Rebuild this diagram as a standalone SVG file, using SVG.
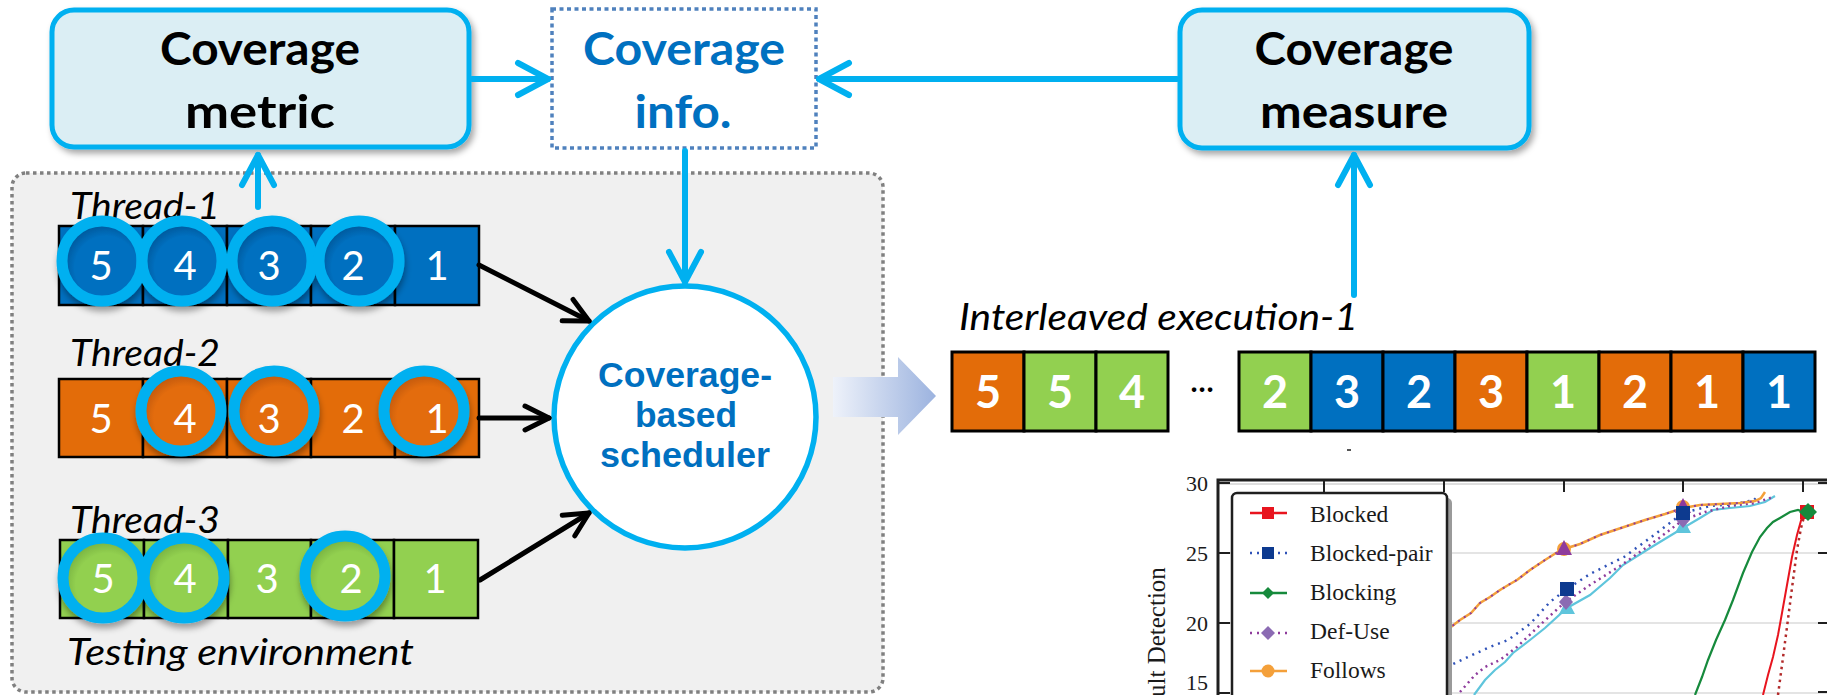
<svg xmlns="http://www.w3.org/2000/svg" width="1827" height="695" viewBox="0 0 1827 695">
  <style>
    .sans { font-family: Lato, "Liberation Sans", sans-serif; }
    .boxlbl { font-family: Lato, "Liberation Sans", sans-serif; font-weight: 700; font-size: 46px; text-anchor: middle; fill: #000; }
    .bluelbl { fill: #0070c0; }
    .schedlbl { font-family: "Liberation Sans", Arial, sans-serif; font-weight: 700; font-size: 35px; text-anchor: middle; fill: #0070c0; }
    .ital { font-family: Lato, "Liberation Sans", sans-serif; font-style: italic; font-size: 36px; fill: #000; }
    .dig { font-family: Lato, "Liberation Sans", sans-serif; font-size: 40px; fill: #fff; text-anchor: middle; }
    .bdig { font-family: Lato, "Liberation Sans", sans-serif; font-weight: 700; font-size: 45px; fill: #fff; text-anchor: middle; }
    .cell { stroke: #000; stroke-width: 2.5; }
    .xcell { stroke: #000; stroke-width: 3; }
    .blue { fill: #0070c0; }
    .orange { fill: #e36c09; }
    .green { fill: #92d050; }
    .ring { stroke: #00b0f0; stroke-width: 11; }
    .box { fill: #dbeef4; stroke: #00b0f0; stroke-width: 5; }
    .bluearrow { stroke: #00b0f0; stroke-width: 6; fill: none; stroke-linecap: round; }
    .blackarrow { stroke: #000; stroke-width: 5; fill: none; stroke-linecap: round; }
    .serif { font-family: "Liberation Serif", serif; fill: #1a1a1a; }
    .tick { font-family: "Liberation Serif", serif; font-size: 22px; fill: #1a1a1a; text-anchor: end; }
    .leg { font-family: "Liberation Serif", serif; font-size: 23.5px; fill: #1a1a1a; }
    .axis { stroke: #1f1f1f; stroke-width: 3; fill: none; }
    .grid { stroke: #e4e4e4; stroke-width: 2; }
  </style>
  <defs>
    <filter id="shadow" x="-20%" y="-20%" width="140%" height="150%">
      <feDropShadow dx="3" dy="4" stdDeviation="3" flood-color="#000" flood-opacity="0.35"/>
    </filter>
    <filter id="ringShadow" x="-30%" y="-30%" width="160%" height="170%">
      <feDropShadow dx="1" dy="5" stdDeviation="3" flood-color="#000" flood-opacity="0.35"/>
    </filter>
    <radialGradient id="gBlue" cx="55%" cy="58%" r="60%">
      <stop offset="0.65" stop-color="#0070c0"/>
      <stop offset="1" stop-color="#004f8c"/>
    </radialGradient>
    <radialGradient id="gOrange" cx="55%" cy="58%" r="60%">
      <stop offset="0.65" stop-color="#e36c09"/>
      <stop offset="1" stop-color="#b45206"/>
    </radialGradient>
    <radialGradient id="gGreen" cx="55%" cy="58%" r="60%">
      <stop offset="0.65" stop-color="#92d050"/>
      <stop offset="1" stop-color="#6fa83a"/>
    </radialGradient>
    <linearGradient id="flowFill" x1="833" y1="0" x2="936" y2="0" gradientUnits="userSpaceOnUse">
      <stop offset="0" stop-color="#eef2fa"/>
      <stop offset="1" stop-color="#9cb3df"/>
    </linearGradient>
    <marker id="blueHead" markerUnits="userSpaceOnUse" viewBox="-40 -24 48 48" markerWidth="48" markerHeight="48" refX="0" refY="0" orient="auto" overflow="visible">
      <path d="M-30,-16 L0,0 L-30,16" fill="none" stroke="#00b0f0" stroke-width="6" stroke-linecap="round" stroke-linejoin="round"/>
    </marker>
    <marker id="blackHead" markerUnits="userSpaceOnUse" viewBox="-34 -20 40 40" markerWidth="40" markerHeight="40" refX="0" refY="0" orient="auto" overflow="visible">
      <path d="M-24,-12 L0,0 L-24,12" fill="none" stroke="#000" stroke-width="5" stroke-linecap="round" stroke-linejoin="round"/>
    </marker>
  </defs>

  <rect width="1827" height="695" fill="#fff"/>

  <!-- testing environment container -->
  <g id="testing-env">
    <rect x="12" y="173" width="871" height="519" rx="14" fill="#f0f0f0" stroke="#808080" stroke-width="3.5" stroke-dasharray="3.5 3.5"/>
    <text class="ital" x="67" y="665" textLength="347" lengthAdjust="spacingAndGlyphs">Testing environment</text>
  </g>

  <!-- thread 1 -->
  <g id="thread-1">
    <text class="ital" x="70" y="219" textLength="150" lengthAdjust="spacingAndGlyphs">Thread-1</text>
    <rect class="cell blue" x="59" y="226" width="84" height="79"/>
    <rect class="cell blue" x="143" y="226" width="84" height="79"/>
    <rect class="cell blue" x="227" y="226" width="84" height="79"/>
    <rect class="cell blue" x="311" y="226" width="84" height="79"/>
    <rect class="cell blue" x="395" y="226" width="84" height="79"/>
    <g filter="url(#ringShadow)">
      <circle class="ring" cx="102" cy="261" r="40" fill="url(#gBlue)"/>
      <circle class="ring" cx="182" cy="261" r="40" fill="url(#gBlue)"/>
      <circle class="ring" cx="272" cy="261" r="40" fill="url(#gBlue)"/>
      <circle class="ring" cx="359" cy="261" r="40" fill="url(#gBlue)"/>
    </g>
    <text class="dig" x="101" y="280">5</text>
    <text class="dig" x="185" y="280">4</text>
    <text class="dig" x="269" y="280">3</text>
    <text class="dig" x="353" y="280">2</text>
    <text class="dig" x="437" y="280">1</text>
  </g>

  <!-- thread 2 -->
  <g id="thread-2">
    <text class="ital" x="70" y="366" textLength="150" lengthAdjust="spacingAndGlyphs">Thread-2</text>
    <rect class="cell orange" x="59" y="379" width="84" height="78"/>
    <rect class="cell orange" x="143" y="379" width="84" height="78"/>
    <rect class="cell orange" x="227" y="379" width="84" height="78"/>
    <rect class="cell orange" x="311" y="379" width="84" height="78"/>
    <rect class="cell orange" x="395" y="379" width="84" height="78"/>
    <g filter="url(#ringShadow)">
      <circle class="ring" cx="181" cy="411" r="40" fill="url(#gOrange)"/>
      <circle class="ring" cx="274" cy="411" r="40" fill="url(#gOrange)"/>
      <circle class="ring" cx="424" cy="411" r="40" fill="url(#gOrange)"/>
    </g>
    <text class="dig" x="101" y="433">5</text>
    <text class="dig" x="185" y="433">4</text>
    <text class="dig" x="269" y="433">3</text>
    <text class="dig" x="353" y="433">2</text>
    <text class="dig" x="437" y="433">1</text>
  </g>

  <!-- thread 3 -->
  <g id="thread-3">
    <text class="ital" x="70" y="533" textLength="150" lengthAdjust="spacingAndGlyphs">Thread-3</text>
    <rect class="cell green" x="60" y="540" width="84" height="78"/>
    <rect class="cell green" x="144" y="540" width="84" height="78"/>
    <rect class="cell green" x="228" y="540" width="83" height="78"/>
    <rect class="cell green" x="311" y="540" width="83" height="78"/>
    <rect class="cell green" x="394" y="540" width="84" height="78"/>
    <g filter="url(#ringShadow)">
      <circle class="ring" cx="103" cy="578" r="40" fill="url(#gGreen)"/>
      <circle class="ring" cx="184" cy="578" r="40" fill="url(#gGreen)"/>
      <circle class="ring" cx="345" cy="576" r="40" fill="url(#gGreen)"/>
    </g>
    <text class="dig" x="103" y="593">5</text>
    <text class="dig" x="185" y="593">4</text>
    <text class="dig" x="267" y="593">3</text>
    <text class="dig" x="351" y="593">2</text>
    <text class="dig" x="435" y="593">1</text>
  </g>

  <!-- scheduler -->
  <g id="scheduler">
    <circle cx="685" cy="417" r="131" fill="#fff" stroke="#00b0f0" stroke-width="5.5"/>
    <text class="schedlbl" x="685" y="387" textLength="174" lengthAdjust="spacingAndGlyphs">Coverage-</text>
    <text class="schedlbl" x="686" y="427" textLength="102" lengthAdjust="spacingAndGlyphs">based</text>
    <text class="schedlbl" x="685" y="467" textLength="170" lengthAdjust="spacingAndGlyphs">scheduler</text>
  </g>

  <!-- top boxes -->
  <g id="coverage-metric">
    <rect class="box" x="52" y="10" width="417" height="137" rx="22" filter="url(#shadow)"/>
    <text class="boxlbl" x="260" y="65" textLength="200" lengthAdjust="spacingAndGlyphs">Coverage</text>
    <text class="boxlbl" x="260" y="128" textLength="150" lengthAdjust="spacingAndGlyphs">metric</text>
  </g>
  <g id="coverage-info">
    <rect x="552" y="9" width="264" height="139" fill="#fff" stroke="#4f81bd" stroke-width="3.5" stroke-dasharray="4 3.5"/>
    <text class="boxlbl bluelbl" x="684" y="65" textLength="202" lengthAdjust="spacingAndGlyphs">Coverage</text>
    <text class="boxlbl bluelbl" x="683" y="128" textLength="97" lengthAdjust="spacingAndGlyphs">info.</text>
  </g>
  <g id="coverage-measure">
    <rect class="box" x="1180" y="10" width="349" height="138" rx="22" filter="url(#shadow)"/>
    <text class="boxlbl" x="1354" y="65" textLength="199" lengthAdjust="spacingAndGlyphs">Coverage</text>
    <text class="boxlbl" x="1354" y="128" textLength="188" lengthAdjust="spacingAndGlyphs">measure</text>
  </g>

  <!-- connectors -->
  <g id="connectors">
    <path class="bluearrow" d="M472,79 H548" marker-end="url(#blueHead)"/>
    <path class="bluearrow" d="M1177,79 H819" marker-end="url(#blueHead)"/>
    <path class="bluearrow" d="M685,151 V282" marker-end="url(#blueHead)"/>
    <path class="bluearrow" d="M258,207 V155" marker-end="url(#blueHead)"/>
    <path class="bluearrow" d="M1354,295 V155" marker-end="url(#blueHead)"/>
    <path class="blackarrow" d="M479,265 L589,321" marker-end="url(#blackHead)"/>
    <path class="blackarrow" d="M479,418 L549,418" marker-end="url(#blackHead)"/>
    <path class="blackarrow" d="M480,580 L589,513" marker-end="url(#blackHead)"/>
    <polygon points="833,377 898,377 898,357 936,396 898,435 898,417 833,417" fill="url(#flowFill)"/>
  </g>

  <!-- interleaved execution -->
  <g id="interleaved">
    <text class="ital" x="959" y="330" textLength="399" lengthAdjust="spacingAndGlyphs">Interleaved execution-1</text>
    <rect class="xcell orange" x="952" y="352" width="72" height="79"/>
    <rect class="xcell green" x="1024" y="352" width="72" height="79"/>
    <rect class="xcell green" x="1096" y="352" width="72" height="79"/>
    <text class="sans" x="1202" y="392" font-size="30" font-weight="700" text-anchor="middle" fill="#000">…</text>
    <rect class="xcell green" x="1239" y="352" width="72" height="79"/>
    <rect class="xcell blue" x="1311" y="352" width="72" height="79"/>
    <rect class="xcell blue" x="1383" y="352" width="72" height="79"/>
    <rect class="xcell orange" x="1455" y="352" width="72" height="79"/>
    <rect class="xcell green" x="1527" y="352" width="72" height="79"/>
    <rect class="xcell orange" x="1599" y="352" width="72" height="79"/>
    <rect class="xcell orange" x="1671" y="352" width="72" height="79"/>
    <rect class="xcell blue" x="1743" y="352" width="72" height="79"/>
    <text class="bdig" x="988" y="408">5</text>
    <text class="bdig" x="1060" y="408">5</text>
    <text class="bdig" x="1132" y="408">4</text>
    <text class="bdig" x="1275" y="408">2</text>
    <text class="bdig" x="1347" y="408">3</text>
    <text class="bdig" x="1419" y="408">2</text>
    <text class="bdig" x="1491" y="408">3</text>
    <text class="bdig" x="1563" y="408">1</text>
    <text class="bdig" x="1635" y="408">2</text>
    <text class="bdig" x="1707" y="408">1</text>
    <text class="bdig" x="1779" y="408">1</text>
    <rect x="1347" y="449" width="4" height="2" fill="#555"/>
  </g>

  <!-- fault detection chart -->
  <g id="chart">
    <line class="grid" x1="1218" y1="553" x2="1827" y2="553"/>
    <line class="grid" x1="1218" y1="623" x2="1827" y2="623"/>
    <line class="grid" x1="1218" y1="693" x2="1827" y2="693"/>
    <line x1="1218" y1="484" x2="1827" y2="484" stroke="#bdbdbd" stroke-width="1"/>
    <path class="axis" d="M1218,695 V480 H1827"/>
    <g stroke="#1f1f1f" stroke-width="2">
      <line x1="1324" y1="480" x2="1324" y2="492"/>
      <line x1="1444" y1="480" x2="1444" y2="492"/>
      <line x1="1564" y1="480" x2="1564" y2="492"/>
      <line x1="1683" y1="480" x2="1683" y2="492"/>
      <line x1="1803" y1="480" x2="1803" y2="492"/>
      <line x1="1218" y1="483" x2="1230" y2="483"/>
      <line x1="1218" y1="553" x2="1230" y2="553"/>
      <line x1="1218" y1="623" x2="1230" y2="623"/>
      <line x1="1218" y1="693" x2="1230" y2="693"/>
      <line x1="1818" y1="483" x2="1827" y2="483"/>
      <line x1="1818" y1="553" x2="1827" y2="553"/>
      <line x1="1818" y1="623" x2="1827" y2="623"/>
      <line x1="1818" y1="692" x2="1827" y2="692"/>
    </g>
    <text class="tick" x="1208" y="491">30</text>
    <text class="tick" x="1208" y="561">25</text>
    <text class="tick" x="1208" y="631">20</text>
    <text class="tick" x="1208" y="690">15</text>
    <text class="serif" font-size="25" transform="translate(1165,697) rotate(-90)">ult Detection</text>

    <!-- series -->
    <path d="M1474,695 L1485,680 1495,670 1505,662 1513,653 1530,640 1545,628 1567,608 1590,595 1610,578 1623,565 1650,548 1683,528 1700,518 1713,510 1730,508 1750,506 1765,502 1775,496" fill="none" stroke="#5fc5dc" stroke-width="2.2"/>
    <path d="M1460,692 L1475,675 1485,667 1500,660 1517,647 1540,625 1564,603 1590,585 1620,566 1650,545 1683,520 1705,512 1730,506 1755,503 1773,497" fill="none" stroke="#8e3b9c" stroke-width="2.5" stroke-dasharray="2 4"/>
    <path d="M1447,667 L1470,656 1490,647 1508,640 1530,624 1550,602 1567,589 1590,574 1624,557 1650,538 1683,513 1710,506 1735,504 1754,500 1758,496" fill="none" stroke="#2f52b8" stroke-width="2.5" stroke-dasharray="2 5"/>
    <path d="M1447,630 L1460,620 1471,613 1480,603 1490,597 1500,590 1510,584 1517,580 1530,570 1545,560 1556,553 1564,549 1580,544 1600,535 1624,527 1645,520 1665,514 1683,508 1700,505 1720,504 1740,503 1755,501 1761,498 1765,492" fill="none" stroke="#f4a03a" stroke-width="2.5"/>
    <path d="M1447,630 L1460,620 1471,613 1480,603 1490,597 1500,590 1510,584 1517,580 1530,570 1545,560 1556,553 1564,549 1580,544 1600,535 1624,527 1645,520 1665,514 1683,508 1700,505 1720,504 1740,503 1755,501" fill="none" stroke="#8e3b9c" stroke-width="2" stroke-dasharray="2 5"/>
    <path d="M1695,695 L1702,677 1708,660 1716,640 1725,620 1733,600 1743,573 1752,552 1760,537 1767,528 1773,522 1780,518 1790,512 1798,510 1807,513" fill="none" stroke="#168a3c" stroke-width="2.2"/>
    <path d="M1763,695 L1768,675 1773,657 1778,635 1782,613 1787,585 1792,557 1797,535 1802,517 1807,512" fill="none" stroke="#e8141e" stroke-width="2"/>
    <path d="M1778,695 L1782,665 1787,627 1792,588 1797,550 1801,528 1805,513" fill="none" stroke="#b22a2a" stroke-width="2.5" stroke-dasharray="2.5 4"/>

    <!-- series markers -->
    <polygon points="1567,599 1575,614 1559,614" fill="#5fc5dc"/>
    <polygon points="1683,518 1691,533 1675,533" fill="#5fc5dc"/>
    <polygon points="1566,594 1573,602 1566,610 1559,602" fill="#8b6bb3"/>
    <polygon points="1683,512 1690,520 1683,528 1676,520" fill="#8b6bb3"/>
    <rect x="1560" y="582" width="14" height="14" fill="#0d3a8f"/>
    <circle cx="1564" cy="549" r="7" fill="#f4a03a"/>
    <polygon points="1564,540 1572,555 1556,555" fill="#8e3b9c"/>
    <circle cx="1683" cy="507" r="7" fill="#f4a03a"/>
    <polygon points="1683,498 1691,513 1675,513" fill="#8e3b9c"/>
    <rect x="1676" y="506" width="14" height="14" fill="#0d3a8f"/>
    <rect x="1800" y="505" width="14" height="14" fill="#e8141e"/>
    <polygon points="1808,503 1817,512 1808,521 1799,512" fill="#168a3c"/>

    <!-- legend -->
    <rect x="1238" y="498" width="214" height="220" rx="5" fill="#9a9a9a"/>
    <rect x="1232" y="493" width="215" height="220" rx="5" fill="#fff" stroke="#1f1f1f" stroke-width="2.5"/>
    <line x1="1250" y1="513" x2="1287" y2="513" stroke="#e8141e" stroke-width="2.5"/>
    <rect x="1262" y="507" width="12" height="12" fill="#e8141e"/>
    <text class="leg" x="1310" y="522">Blocked</text>
    <line x1="1250" y1="553" x2="1287" y2="553" stroke="#2f52b8" stroke-width="2.5" stroke-dasharray="2 5"/>
    <rect x="1262" y="547" width="12" height="12" fill="#0d3a8f"/>
    <text class="leg" x="1310" y="561">Blocked-pair</text>
    <line x1="1250" y1="593" x2="1287" y2="593" stroke="#168a3c" stroke-width="2.5"/>
    <polygon points="1268,587 1274,593 1268,599 1262,593" fill="#168a3c"/>
    <text class="leg" x="1310" y="600">Blocking</text>
    <line x1="1250" y1="633" x2="1287" y2="633" stroke="#8e3b9c" stroke-width="2.5" stroke-dasharray="2 5"/>
    <polygon points="1268,626 1275,633 1268,640 1261,633" fill="#8b6bb3"/>
    <text class="leg" x="1310" y="639">Def-Use</text>
    <line x1="1250" y1="671" x2="1287" y2="671" stroke="#f4a03a" stroke-width="2.5"/>
    <circle cx="1268" cy="671" r="6.5" fill="#f4a03a"/>
    <text class="leg" x="1310" y="678">Follows</text>
  </g>
</svg>
